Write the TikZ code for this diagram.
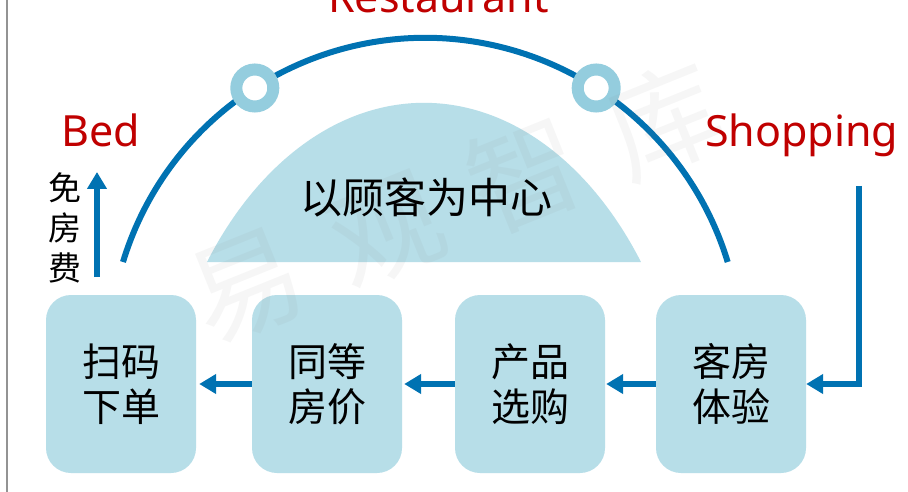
\documentclass[tikz,border=0pt]{standalone}
\usepackage{fontspec}
\setmainfont{Noto Sans}
\newfontfamily\cjk{Noto Sans CJK SC}
\usetikzlibrary{arrows.meta}
\definecolor{arcblue}{RGB}{0,114,178}
\definecolor{boxblue}{RGB}{183,222,232}
\definecolor{ringblue}{RGB}{148,205,222}
\definecolor{labelred}{RGB}{192,0,0}
\tikzset{
  box/.style={rectangle, rounded corners=25pt, fill=boxblue, minimum width=150pt,
    minimum height=178pt, inner sep=0pt, align=center,
    font=\fontsize{39}{45}\selectfont\cjk},
  flow/.style={draw=arcblue, line width=6pt, -{Triangle[length=17pt,width=19pt]}},
  arcline/.style={draw=arcblue, line width=6pt},
  ring/.style={circle, draw=ringblue, line width=12pt, fill=white, minimum size=37pt, inner sep=0pt},
  lbl/.style={text=labelred, inner sep=0pt, font=\fontsize{43}{50}\selectfont},
  wm/.style={text=gray, text opacity=0.07, inner sep=0pt, rotate=22,
    font=\fontsize{112}{112}\selectfont\cjk}
}
\begin{document}
\begin{tikzpicture}[x=1pt,y=1pt,yscale=-1]
\useasboundingbox (0,0) rectangle (908,492);
\fill[white] (0,0) rectangle (908,492);
% left border
\draw[gray!85, line width=2pt] (7,0) -- (7,492);
% central dome
\fill[boxblue] (207,262) arc[start angle=216.8, end angle=323.2, x radius=271pt, y radius=397pt] -- cycle;
% big arc
\draw[arcline] (123,262) arc[start angle=196.9, end angle=343.1, radius=316pt];
\node[ring] (r1) at (254.8,88) {};
\node[ring] (r2) at (596.2,88) {};
% boxes
\node[box] (b1) at (121,384) {扫码\\下单};
\node[box] (b2) at (327,384) {同等\\房价};
\node[box] (b3) at (530,384) {产品\\选购};
\node[box] (b4) at (731,384) {客房\\体验};
% watermark
\node[wm] (w1) at (247,287) {易};
\node[wm] (w2) at (386,231) {观};
\node[wm] (w3) at (524,174) {智};
\node[wm] (w4) at (664,120) {库};
% centre text
\node[inner sep=0pt, font=\fontsize{42}{42}\selectfont\cjk] (centre) at (426,197) {以顾客为中心};
% labels
\node[lbl, anchor=base west] (bed) at (61,147) {Bed};
\node[lbl, anchor=base west] (shop) at (705,147) {Shopping};
\node[lbl, anchor=base] (rest) at (438.5,12.5) {Restaurant};
\node[inner sep=0pt, align=center, font=\fontsize{33}{40}\selectfont\cjk] (free) at (65,228) {免\\房\\费};
% connectors
\draw[flow] (b2.west) -- ([xshift=3pt]b1.east);
\draw[flow] (b3.west) -- ([xshift=2pt]b2.east);
\draw[flow] (b4.west) -- ([xshift=1pt]b3.east);
\coordinate (shopstart) at (859,186);
\draw[flow] (shopstart) |- (b4.east);
\coordinate (bedstart) at (97,277);
\coordinate (bedtip) at (97,172);
\draw[flow] (bedstart) -- (bedtip);
\end{tikzpicture}
\end{document}
